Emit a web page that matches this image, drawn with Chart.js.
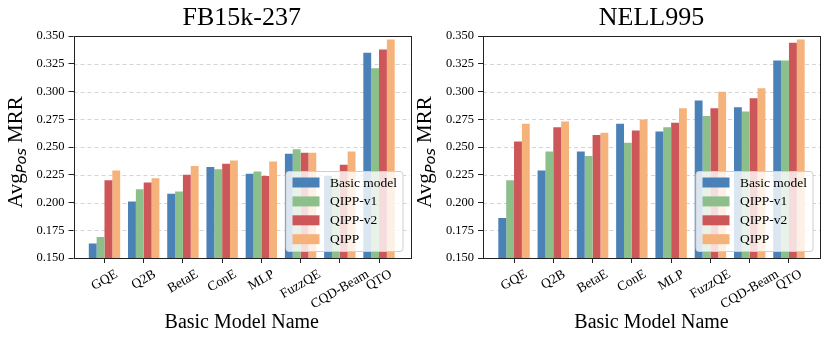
<!DOCTYPE html>
<html><head><meta charset="utf-8">
<script src="https://cdn.jsdelivr.net/npm/chart.js@4.4.1/dist/chart.umd.min.js"></script>
<style>body{margin:0;background:#fff;} #wrap{display:flex;width:830px;height:344px;} canvas{display:block;}</style>
</head><body><div id="wrap"><canvas id="c1" width="415" height="344"></canvas><canvas id="c2" width="415" height="344"></canvas></div>
<script>
const categories = ['GQE','Q2B','BetaE','ConE','MLP','FuzzQE','CQD-Beam','QTO'];
const seriesLabels = ['Basic model','QIPP-v1','QIPP-v2','QIPP'];
const yTicks = [0.150,0.175,0.200,0.225,0.250,0.275,0.300,0.325,0.350];

const fbBasic = [0.163,0.201,0.208,0.232,0.226,0.244,0.224,0.335];
const fbV1    = [0.169,0.212,0.210,0.230,0.228,0.248,0.222,0.321];
const fbV2    = [0.220,0.218,0.225,0.235,0.224,0.245,0.234,0.338];
const fbQIPP  = [0.229,0.222,0.233,0.238,0.237,0.245,0.246,0.347];

const nellBasic = [0.186,0.229,0.246,0.271,0.264,0.292,0.286,0.328];
const nellV1    = [0.220,0.246,0.242,0.254,0.268,0.278,0.282,0.328];
const nellV2    = [0.255,0.268,0.261,0.265,0.272,0.285,0.294,0.344];
const nellQIPP  = [0.271,0.273,0.263,0.275,0.285,0.300,0.303,0.347];

const colors = ['#4a81b7','#8dbf8b','#cd5658','#f5b27b'];
const SERIF = "'Liberation Serif', 'Times New Roman', serif";
const W = 415, H = 344;

function decorPlugin() {
  return {
    id: 'decor',
    beforeDatasetsDraw(chart) {
      const {ctx, chartArea: a, scales: {y}} = chart;
      ctx.save();
      ctx.strokeStyle = '#d0d0d0';
      ctx.lineWidth = 0.9;
      ctx.setLineDash([4, 3]);
      y.ticks.forEach(t => {
        const py = Math.round(y.getPixelForValue(t.value)) + 0.5;
        ctx.beginPath(); ctx.moveTo(a.left, py); ctx.lineTo(a.right, py); ctx.stroke();
      });
      ctx.restore();
    },
    afterDatasetsDraw(chart) {
      const {ctx, chartArea: a, scales: {x}} = chart;
      ctx.save();
      // legend
      const bw = 117, bh = 80;
      const bx = a.right - 7 - bw, by = a.bottom - 6.5 - bh;
      ctx.beginPath();
      ctx.roundRect(bx, by, bw, bh, 3);
      ctx.fillStyle = 'rgba(255,255,255,0.8)';
      ctx.fill();
      ctx.strokeStyle = '#cfcfcf';
      ctx.lineWidth = 1;
      ctx.stroke();
      ctx.font = '13.5px ' + SERIF;
      ctx.textBaseline = 'middle';
      ctx.textAlign = 'left';
      chart.data.datasets.forEach((ds, k) => {
        const cy = by + 11 + k * 18.9;
        ctx.fillStyle = ds.backgroundColor;
        ctx.fillRect(bx + 6.5, cy - 5, 27, 10);
        ctx.fillStyle = '#000';
        ctx.fillText(ds.label, bx + 44, cy + 0.5);
      });
      // frame
      ctx.strokeStyle = '#222';
      ctx.lineWidth = 1;
      ctx.strokeRect(Math.round(a.left) + 0.5, Math.round(a.top) + 0.5, Math.round(a.right - a.left), Math.round(a.bottom - a.top));
      // x tick labels (rotated, centred)
      ctx.font = '13.5px ' + SERIF;
      ctx.fillStyle = '#000';
      ctx.textAlign = 'center';
      ctx.textBaseline = 'middle';
      const ang = Math.PI / 6;
      categories.forEach((lab, i) => {
        const px = x.getPixelForValue(i);
        const w = ctx.measureText(lab).width;
        const h = 10;
        const bbH = w * Math.sin(ang) + h * Math.cos(ang);
        const cy = a.bottom + 11 + bbH / 2;
        ctx.save();
        ctx.translate(px, cy);
        ctx.rotate(-ang);
        ctx.fillText(lab, 0, 0);
        ctx.restore();
      });
      // y title: Avg_Pos MRR
      const big = '21px ' + SERIF, sub = 'italic 14.5px "DejaVu Sans"';
      ctx.font = big; const w1 = ctx.measureText('Avg').width;
      ctx.font = sub; const w2 = ctx.measureText('Pos').width;
      ctx.font = big; const w3 = ctx.measureText(' MRR').width;
      const total = w1 + w2 + w3;
      ctx.translate(a.left - 52, (a.top + a.bottom) / 2 + 5);
      ctx.rotate(-Math.PI / 2);
      ctx.textAlign = 'left';
      ctx.textBaseline = 'alphabetic';
      let sx = -total / 2;
      ctx.font = big; ctx.fillText('Avg', sx, 0); sx += w1;
      ctx.font = sub; ctx.fillText('Pos', sx, 4); sx += w2;
      ctx.font = big; ctx.fillText(' MRR', sx, 0);
      ctx.restore();
    }
  };
}

function makeChart(id, title, series, left, right) {
  new Chart(document.getElementById(id), {
    type: 'bar',
    data: {
      datasets: series.map((vals, k) => ({
        label: seriesLabels[k],
        data: vals.map((v, i) => ({x: i, y: v})),
        backgroundColor: colors[k],
        borderWidth: 0,
        categoryPercentage: 0.8,
        barPercentage: 1.0
      }))
    },
    options: {
      responsive: false,
      animation: false,
      layout: {padding: {left: 0, right: W - right, top: 0, bottom: 0}},
      plugins: {
        legend: {display: false},
        tooltip: {enabled: false},
        title: {display: true, text: title, color: '#000', fullSize: false,
          font: {family: SERIF, size: 26, weight: 'normal'}, padding: {top: 3, bottom: 2}}
      },
      scales: {
        x: {
          type: 'linear', min: -0.79, max: 7.79, offset: false,
          afterBuildTicks: s => { s.ticks = categories.map((_, i) => ({value: i})); },
          ticks: {display: false},
          grid: {offset: false, drawOnChartArea: false, drawTicks: true, tickLength: 5, tickColor: '#222', tickWidth: 1},
          border: {display: false},
          afterFit: s => { s.height = H - 258; },
          title: {display: true, text: 'Basic Model Name', color: '#000',
            font: {family: SERIF, size: 20}, padding: {top: 0, bottom: 9}}
        },
        y: {
          min: 0.15, max: 0.35,
          afterBuildTicks: s => { s.ticks = yTicks.map(v => ({value: v})); },
          ticks: {callback: v => v.toFixed(3), color: '#000', font: {family: SERIF, size: 12.5}, padding: 4},
          grid: {drawOnChartArea: false, drawTicks: true, tickLength: 5, tickColor: '#222', tickWidth: 1},
          border: {display: false},
          afterFit: s => { s.width = left; }
        }
      }
    },
    plugins: [decorPlugin()]
  });
}

makeChart('c1', 'FB15k-237', [fbBasic, fbV1, fbV2, fbQIPP], 73.5, 410);
makeChart('c2', 'NELL995', [nellBasic, nellV1, nellV2, nellQIPP], 68, 405);
</script></body></html>
